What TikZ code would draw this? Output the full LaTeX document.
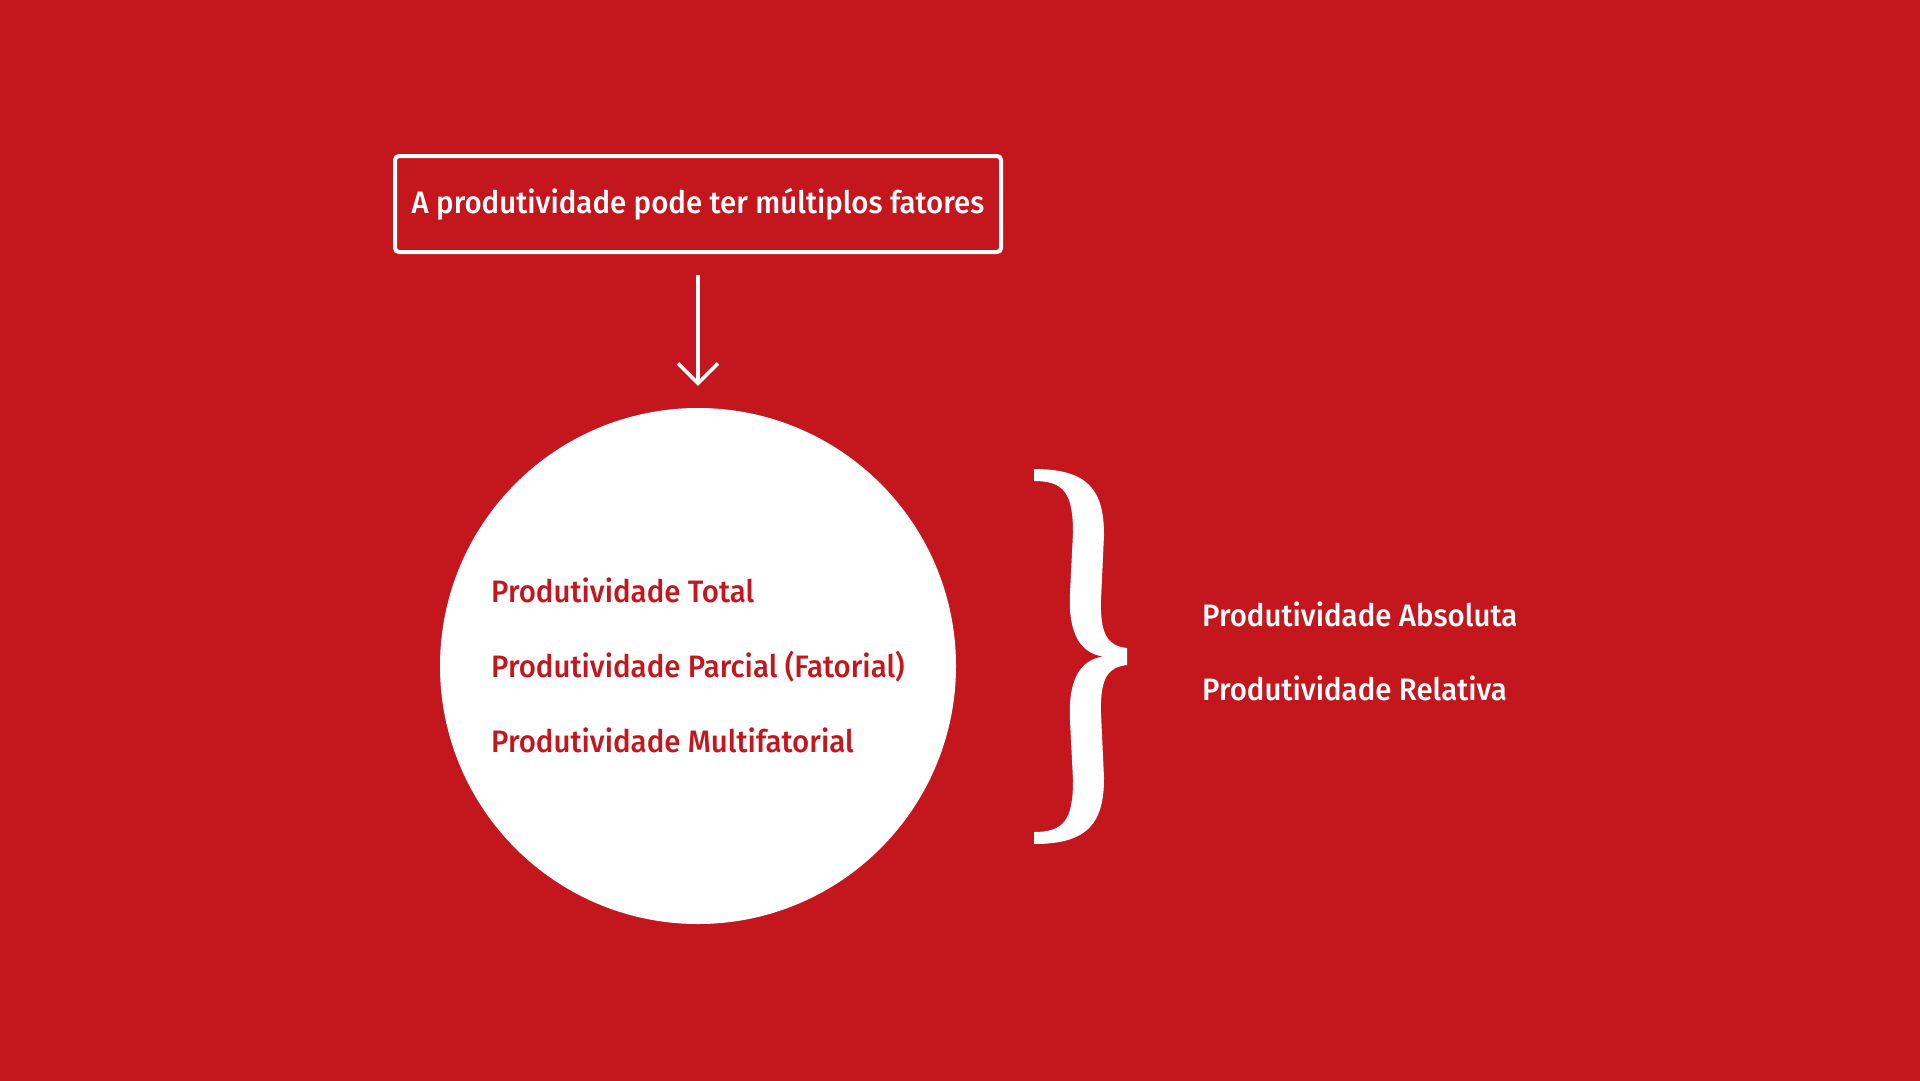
\documentclass[tikz,border=0pt]{standalone}
\usepackage{fontspec}
\setmainfont{Fira Sans}[BoldFont={Fira Sans Medium}, FakeStretch=0.95]
\usetikzlibrary{arrows.meta}
\definecolor{bgred}{RGB}{196,22,29}
\tikzset{
  lbl/.style={font=\fontsize{31}{36}\selectfont\bfseries, inner sep=0pt, anchor=base west},
}
\begin{document}
\begin{tikzpicture}[x=1pt,y=-1pt]
\fill[bgred] (0,0) rectangle (1920,1081);
\useasboundingbox (0,0) rectangle (1920,1081);
% title box
\node[draw=white, line width=4pt, rounded corners=4pt, minimum width=606pt, minimum height=96pt, inner sep=0pt] (box) at (698,204) {};
\node[lbl, anchor=base, text=white] (title) at (698,213) {A produtividade pode ter múltiplos fatores};
% circle
\node[circle, fill=white, minimum size=516pt, inner sep=0pt] (circ) at (698,666) {};
\draw[white, line width=3.5pt, -{Straight Barb[length=20pt, width=40pt, line width=3.5pt]}, shorten <=21pt, shorten >=22pt] (box.south) -- (circ.north);
\node[lbl, text=bgred] (t1) at (491,602) {Produtividade Total};
\node[lbl, text=bgred] (t2) at (491,677) {Produtividade Parcial (Fatorial)};
\node[lbl, text=bgred] (t3) at (491,752) {Produtividade Multifatorial};
% brace
\fill[white] (1034,469) .. controls (1088,469) and (1104,490) .. (1104,535)
  -- (1101,600) .. controls (1100,635) and (1108,646) .. (1127,648)
  -- (1127,665) .. controls (1108,667) and (1100,678) .. (1101,713)
  -- (1104,778) .. controls (1104,823) and (1088,844) .. (1034,844)
  -- (1034,832) .. controls (1064,832) and (1073,820) .. (1073,780)
  -- (1070,720) .. controls (1068,680) and (1080,660) .. (1103,656.5)
  .. controls (1080,653) and (1068,633) .. (1070,593)
  -- (1073,533) .. controls (1073,493) and (1064,481) .. (1034,481) -- cycle;
\node[lbl, text=white] (r1) at (1202,626) {Produtividade Absoluta};
\node[lbl, text=white] (r2) at (1202,700) {Produtividade Relativa};
\end{tikzpicture}
\end{document}
